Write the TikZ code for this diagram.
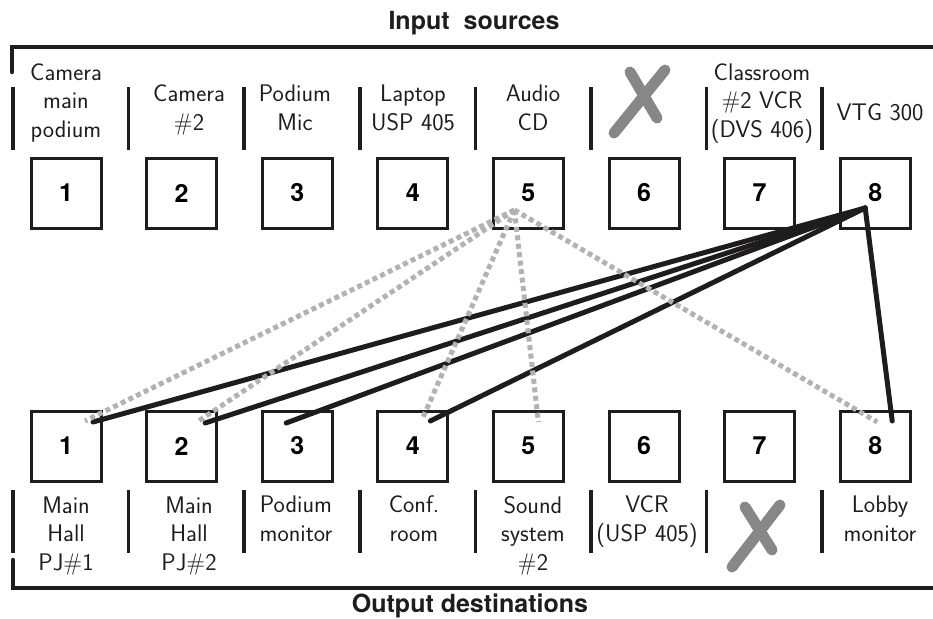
\documentclass[tikz,border=0pt]{standalone}
\usepackage{fontspec}
\newfontfamily\heros{TeX Gyre Heros}
\usetikzlibrary{calc}
\definecolor{ink}{RGB}{30,28,29}
\definecolor{xgray}{RGB}{135,135,135}
\definecolor{dotgray}{RGB}{178,178,180}
\tikzset{
  boxnode/.style={draw=ink, line width=3pt, minimum size=70pt, inner sep=0pt,
    font=\heros\bfseries\fontsize{25}{25}\selectfont},
  lbl/.style={align=center, anchor=base, inner sep=0pt, text=ink,
    font=\sffamily\fontsize{24}{28.5}\selectfont},
  title/.style={anchor=base, inner sep=0pt, text=ink,
    font=\heros\bfseries\fontsize{25}{25}\selectfont},
  sepline/.style={draw=ink, line width=3.5pt},
  bracket/.style={draw=ink, line width=4.5pt},
  xmark/.style={draw=xgray, line width=11pt, line cap=round},
  solidlink/.style={draw=ink, line width=5pt, line cap=round},
  dotlink/.style={draw=dotgray, line width=5pt, dash pattern=on 5pt off 3.5pt}
}
\begin{document}
\begin{tikzpicture}[x=1pt,y=-1pt]
\useasboundingbox (0,0) rectangle (933,618);
% titles
\node[title] (tin) at (474,30) {Input\ \ sources};
\node[title] (tout) at (470,612) {Output destinations};
% brackets
\draw[bracket, line cap=round] (12,72) -- (12,47) -- (940,47);
\draw[bracket, line cap=round] (13,560) -- (13,588) -- (940,588);
% separators
\foreach \i in {0,...,7}{
  \draw[sepline] ({13+115.6*\i},87) -- ({13+115.6*\i},150);
  \draw[sepline] ({13+115.6*\i},490) -- ({13+115.6*\i},553);
}
% boxes
\foreach \i in {1,...,8}{
  \node[boxnode] (t\i) at ({66+115.6*(\i-1)},193) {\raisebox{-3pt}{\i}};
  \node[boxnode] (b\i) at ({66+115.6*(\i-1)},446) {\raisebox{-3pt}{\i}};
}
% top labels (anchor = baseline of last line)
\node[lbl] (lt1) at (66,137) {Camera\\main\\podium};
\node[lbl] (lt2) at (189,130) {Camera\\\#2};
\node[lbl] (lt3) at (295,130) {Podium\\Mic};
\node[lbl] (lt4) at (413,130) {Laptop\\USP 405};
\node[lbl] (lt5) at (533,130) {Audio\\CD};
\node[lbl] (lt7) at (762,137) {Classroom\\\#2 VCR\\(DVS 406)};
\node[lbl] (lt8) at (880,120) {VTG 300};
% bottom labels
\node[lbl] (lb1) at (66,570) {Main\\Hall\\PJ\#1};
\node[lbl] (lb2) at (189,570) {Main\\Hall\\PJ\#2};
\node[lbl] (lb3) at (296,541) {Podium\\monitor};
\node[lbl] (lb4) at (414,541) {Conf.\\room};
\node[lbl] (lb5) at (533,570) {Sound\\system\\\#2};
\node[lbl] (lb6) at (647,541) {VCR\\(USP 405)};
\node[lbl] (lb8) at (880,541) {Lobby\\monitor};
% X marks
\draw[xmark] (614,133) -- (665,70);
\draw[xmark] (630,72) -- (657,118);
\draw[xmark] (732,567) -- (780,505);
\draw[xmark] (745,507) -- (772,550);
% hubs and ends
\coordinate (h8) at ($(t8.center)+(-10,15)$);
\coordinate (h5) at ($(t5.center)+(-14,17)$);
\coordinate (k1) at ($(b1.center)+(27,-24)$);
\coordinate (k2) at ($(b2.center)+(23.5,-23)$);
\coordinate (k3) at ($(b3.center)+(-11,-23)$);
\coordinate (k4) at ($(b4.center)+(17.5,-25)$);
\coordinate (k8) at ($(b8.center)+(17,-25)$);
\coordinate (g1) at ($(b1.center)+(19,-25)$);
\coordinate (g2) at ($(b2.center)+(15.5,-24)$);
\coordinate (g4) at ($(b4.center)+(9.5,-27)$);
\coordinate (g5) at ($(b5.center)+(10,-24)$);
\coordinate (g8) at ($(b8.center)+(2,-24)$);
% solid links
\foreach \k in {k1,k2,k3,k4,k8}{\draw[solidlink] (h8) -- (\k);}
% dotted links
\foreach \g in {g1,g2,g4,g5,g8}{\draw[dotlink] (h5) -- (\g);}
\end{tikzpicture}
\end{document}
